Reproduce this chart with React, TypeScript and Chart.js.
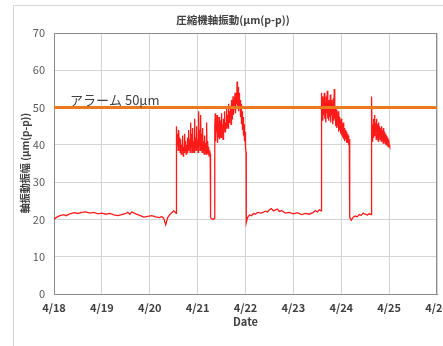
import React, { useEffect, useRef } from "react";
import { Chart, registerables } from "chart.js";

Chart.register(...registerables);

// Hours elapsed since 4/18 00:00
const hours: number[] = [
  0, 1, 3, 5, 6, 8, 10, 12, 14, 16, 18, 20, 22, 24, 26, 28, 30, 32, 34, 36, 37, 38, 39, 41, 43, 45, 47, 49, 51, 53, 54, 55, 56, 57, 58, 59, 60, 61, 61.3,
  61.4, 61.75, 62, 62.25, 62.5, 62.75, 63, 63.25, 63.5, 63.75, 64, 64.25, 64.5, 64.75, 65, 65.25, 65.5, 65.75, 66, 66.25, 66.5, 66.75, 67, 67.25, 67.5, 67.75,
  68, 68.25, 68.5, 68.75, 69, 69.25, 69.5, 69.75, 70, 70.25, 70.5, 70.75, 71, 71.25, 71.5, 71.75, 72, 72.25, 72.5, 72.75, 73, 73.25, 73.5, 73.75,
  74, 74.25, 74.5, 74.75, 75, 75.25, 75.5, 75.75, 76, 76.25, 76.5, 76.75, 77, 77.25, 77.5, 77.75, 78, 78.3,
  78.5, 79, 80, 80.4,
  80.6, 80.85, 81, 81.25, 81.5, 81.75, 82, 82.25, 82.5, 82.75, 83, 83.25, 83.5, 83.75, 84, 84.25, 84.5, 84.75, 85, 85.25, 85.5, 85.75,
  86, 86.25, 86.5, 86.75, 87, 87.25, 87.5, 87.75, 88, 88.25, 88.5, 88.75, 89, 89.25, 89.5, 89.75, 90, 90.25, 90.5, 90.75, 91, 91.25, 91.5, 91.8,
  92, 92.25, 92.5, 92.75, 93, 93.25, 93.5, 93.75, 94, 94.25, 94.5, 94.75, 95, 95.25, 95.5, 95.75, 96, 96.3,
  96.4, 97, 98, 99, 100, 101, 102, 104, 106, 107, 108, 109, 110, 112, 113, 114, 116, 118, 120, 122, 124, 126, 128, 130, 131, 132, 133, 133.9,
  134, 134.25, 134.5, 134.75, 135, 135.25, 135.5, 135.75, 136, 136.25, 136.5, 136.75, 137, 137.25, 137.5, 137.75, 138, 138.25, 138.5, 138.75,
  139, 139.25, 139.5, 139.75, 140, 140.25, 140.5, 140.75, 141, 141.25, 141.5, 141.75, 142, 142.25, 142.5, 142.75, 143, 143.25, 143.5, 143.75,
  144, 144.25, 144.5, 144.75, 145, 145.25, 145.5, 145.75, 146, 146.25, 146.5, 146.75, 147, 147.25, 147.5, 147.75, 148, 148.2,
  148.3, 149, 150, 151, 152, 153, 154, 155, 156, 157, 158, 159,
  159.2, 159.5, 159.75, 160, 160.25, 160.5, 160.75, 161, 161.25, 161.5, 161.75, 162, 162.25, 162.5, 162.75, 163, 163.25, 163.5, 163.75,
  164, 164.25, 164.5, 164.75, 165, 165.25, 165.5, 165.75, 166, 166.25, 166.5, 166.75, 167, 167.25, 167.5, 167.75, 168, 168.3,
];

// Shaft vibration amplitude, μm(p-p)
const vibration: number[] = [
  20.0, 20.5, 21.0, 21.3, 21.0, 21.5, 21.8, 21.6, 21.9, 22.0, 21.7, 21.9, 21.5, 21.7, 21.4, 21.6, 21.2, 21.0, 21.3, 21.6, 21.9, 21.4, 22.0, 21.5, 21.1, 20.6, 20.8, 21.0, 20.7, 20.5, 20.8, 20.3, 18.6, 20.5, 21.3, 21.8, 22.3, 21.8, 21.6,
  45, 40, 43, 38.5, 44, 39.5, 42, 38, 41.5, 37.5, 40, 38.5, 42.5, 37, 39.5, 38, 43, 38.5, 41, 37.5, 40, 38, 42, 38.5, 44, 39,
  41.5, 38, 46, 39.5, 43, 38, 44.5, 38.5, 41, 38, 47, 39, 42, 38.5, 45, 39.5, 41.5, 38, 49, 40, 44, 38.5, 48, 39,
  43, 38, 44.5, 38.5, 41, 37.5, 42.5, 38, 40.5, 37.5, 46, 38, 41, 37.5, 39.5, 37, 38.5, 37.5,
  20.5, 20.2, 20.0, 20.3,
  45, 48.5, 41, 46, 43.5, 48, 40.5, 45, 42, 47.5, 41.5, 44, 46.5, 42, 48.5, 43, 45.5, 41.5, 47, 44, 49, 43.5,
  46, 44.5, 50, 45, 48, 44.5, 51, 46, 49, 47.5, 50.5, 45.5, 52, 47, 49.5, 53, 48, 51.5, 49.5, 54, 48.5, 53.5, 51, 57,
  50.5, 55.5, 49, 54, 50, 52, 47.5, 51, 45.5, 49, 44, 47.5, 42.5, 45.5, 41, 43.5, 39.5, 38,
  19.2, 20.5, 21.2, 21.0, 21.6, 21.4, 21.9, 21.7, 22.2, 22.0, 22.6, 22.9, 22.3, 22.8, 22.1, 22.4, 21.7, 21.9, 21.5, 21.8, 21.3, 21.6, 21.4, 21.9, 22.4, 22.0, 22.6, 22.3,
  54, 47.5, 53, 46.5, 52.5, 48, 54, 47, 51.5, 46, 53, 48.5, 54.5, 47, 52, 46.5, 50.5, 47.5, 53.5, 46,
  52, 48, 51, 45.5, 52.5, 46.5, 55, 47, 50, 45, 49.5, 44.5, 48.5, 45, 49, 43.5, 47.5, 44, 46.5, 43,
  47, 42.5, 45.5, 42, 46, 41.5, 44.5, 41, 44, 41.5, 43.5, 40.5, 43, 40.5, 42.5, 40, 41.5, 40,
  20.5, 19.8, 20.6, 20.9, 20.7, 21.3, 21.1, 21.7, 21.4, 21.2, 21.5, 21.3,
  53, 41, 45.5, 42, 47, 42.5, 48, 43, 46, 41.5, 47, 42, 45.5, 41, 46, 42.5, 45, 41.5, 44.5,
  41, 45, 42, 44, 40.5, 44.5, 41, 43.5, 40.5, 43, 40, 42.5, 40, 42, 39.5, 41.5, 40, 39.5,
];

const alarmLevel = 50;
const alarmLabel = "アラーム 50μm";
const chartTitle = "圧縮機軸振動(μm(p-p))";
const yTitle = "軸振動振幅 (μm(p-p))";
const xTitle = "Date";
const startDay = 18;
const xMaxHours = 192;
const yMax = 70;

const JP = "'Noto Sans CJK JP', 'Noto Sans', sans-serif";

export default function App() {
  const ref = useRef<HTMLCanvasElement | null>(null);

  useEffect(() => {
    const canvas = ref.current;
    if (!canvas) return;

    const textPlugin = {
      id: "customText",
      beforeDraw(chart: any) {
        const ctx = chart.ctx;
        ctx.save();
        ctx.fillStyle = "#ffffff";
        ctx.fillRect(0, 0, chart.width, chart.height);
        ctx.strokeStyle = "#d4d4d4";
        ctx.lineWidth = 1;
        ctx.beginPath();
        ctx.moveTo(13.5, 400);
        ctx.lineTo(13.5, 5.5);
        ctx.lineTo(600, 5.5);
        ctx.stroke();
        ctx.restore();
      },
      beforeDatasetsDraw(chart: any) {
        const { ctx, chartArea } = chart;
        ctx.save();
        ctx.strokeStyle = "#8c8c8c";
        ctx.lineWidth = 1;
        ctx.strokeRect(
          Math.round(chartArea.left) + 0.5,
          Math.round(chartArea.top) + 0.5,
          Math.round(chartArea.right - chartArea.left) - 1,
          Math.round(chartArea.bottom - chartArea.top)
        );
        ctx.restore();
      },
      afterDraw(chart: any) {
        const { ctx, chartArea } = chart;
        ctx.save();
        ctx.fillStyle = "#404040";
        ctx.textAlign = "center";
        ctx.textBaseline = "middle";
        ctx.font = `bold 10.5px ${JP}`;
        ctx.fillText(chartTitle, 233, 20);

        ctx.font = `bold 11px ${JP}`;
        ctx.fillText(xTitle, (chartArea.left + chartArea.right) / 2, 322);

        ctx.save();
        ctx.translate(25, 163);
        ctx.rotate(-Math.PI / 2);
        ctx.font = `bold 10px ${JP}`;
        ctx.fillText(yTitle, 0, 0);
        ctx.restore();

        const yScale = chart.scales.y;
        ctx.textAlign = "left";
        ctx.textBaseline = "alphabetic";
        ctx.font = `13px ${JP}`;
        ctx.fillStyle = "#404040";
        ctx.fillText(alarmLabel, 70, yScale.getPixelForValue(alarmLevel) - 3);
        ctx.restore();
      },
    };

    const chart = new Chart(canvas, {
      type: "line",
      data: {
        datasets: [
          {
            label: "alarm",
            data: [
              { x: 0, y: alarmLevel },
              { x: xMaxHours, y: alarmLevel },
            ],
            borderColor: "#EC7A1C",
            borderWidth: 3,
            pointRadius: 0,
            tension: 0,
          },
          {
            label: "vibration",
            data: hours.map((h, i) => ({ x: h, y: vibration[i] })),
            borderColor: "#FF1A1A",
            borderWidth: 1.3,
            pointRadius: 0,
            tension: 0,
          },
        ],
      },
      options: {
        animation: false,
        responsive: false,
        devicePixelRatio: 1,
        layout: { padding: { top: 33, right: 33, left: 0, bottom: 0 } },
        plugins: {
          legend: { display: false },
          tooltip: { enabled: false },
          title: { display: false },
        },
        scales: {
          x: {
            type: "linear",
            min: 0,
            max: xMaxHours,
            afterFit: (s: any) => {
              s.height = 52;
            },
            grid: { color: "#d4d4d4", drawTicks: false },
            border: { display: true, color: "#8c8c8c" },
            ticks: {
              stepSize: 24,
              autoSkip: false,
              maxRotation: 0,
              padding: 7,
              color: "#404040",
              font: { family: JP, size: 11, weight: "bold" },
              callback: (v: any) => `4/${startDay + Math.round(Number(v) / 24)}`,
            },
          },
          y: {
            min: 0,
            max: yMax,
            afterFit: (s: any) => {
              s.width = 54;
            },
            grid: { color: "#d4d4d4", drawTicks: false },
            border: { display: true, color: "#8c8c8c" },
            ticks: {
              stepSize: 10,
              padding: 9,
              color: "#595959",
              font: { family: JP, size: 11 },
            },
          },
        },
      },
      plugins: [textPlugin],
    } as any);

    return () => chart.destroy();
  }, []);

  return (
    <div
      style={{
        position: "fixed",
        left: 0,
        top: 0,
        width: 443,
        height: 346,
        overflow: "hidden",
        background: "#fff",
      }}
    >
      <canvas ref={ref} width={470} height={346} style={{ display: "block", width: 470, height: 346 }} />
    </div>
  );
}
